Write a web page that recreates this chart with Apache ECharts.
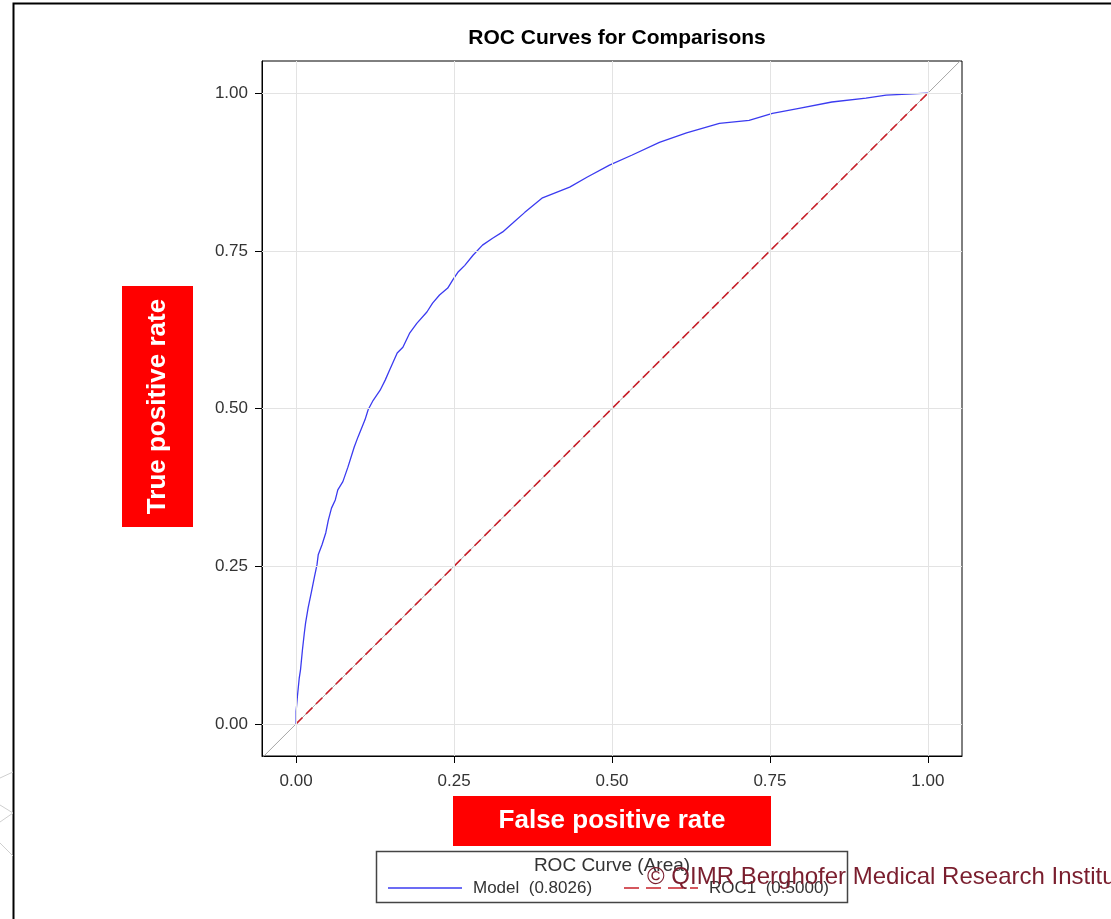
<!DOCTYPE html>
<html>
<head>
<meta charset="utf-8">
<script src="https://cdn.jsdelivr.net/npm/echarts@6/dist/echarts.min.js"></script>
<style>
  html, body { margin: 0; padding: 0; background: #ffffff; }
  #chart { width: 1111px; height: 919px; }
</style>
</head>
<body>
<div id="chart"></div>
<script>
// ROC curve of the fitted model: false positive rate vs true positive rate
const modelFpr = [0, 0.000, 0.002, 0.005, 0.007, 0.010, 0.013, 0.015, 0.019, 0.024, 0.029, 0.033, 0.035, 0.041, 0.047, 0.051, 0.056, 0.062, 0.066, 0.074, 0.082, 0.092, 0.098, 0.109, 0.114, 0.122, 0.133, 0.141, 0.148, 0.160, 0.169, 0.180, 0.191, 0.207, 0.216, 0.227, 0.240, 0.248, 0.256, 0.267, 0.280, 0.295, 0.311, 0.327, 0.343, 0.362, 0.390, 0.433, 0.461, 0.496, 0.532, 0.575, 0.618, 0.670, 0.717, 0.754, 0.796, 0.848, 0.902, 0.934, 0.959, 1.0];
const modelTpr = [0, 0.020, 0.043, 0.073, 0.086, 0.117, 0.144, 0.160, 0.184, 0.208, 0.233, 0.252, 0.268, 0.284, 0.303, 0.323, 0.342, 0.355, 0.371, 0.384, 0.407, 0.439, 0.455, 0.482, 0.498, 0.513, 0.529, 0.545, 0.561, 0.588, 0.597, 0.620, 0.635, 0.653, 0.667, 0.680, 0.691, 0.704, 0.716, 0.727, 0.743, 0.759, 0.770, 0.780, 0.794, 0.811, 0.834, 0.851, 0.867, 0.886, 0.902, 0.922, 0.937, 0.952, 0.957, 0.968, 0.976, 0.986, 0.992, 0.997, 0.998, 1.0];

// chance line (ROC1)
const chanceFpr = [0, 1];
const chanceTpr = [0, 1];

// full-width identity diagonal behind everything
const diagonalExtent = [-0.06, 1.06];

const tickValues = [0, 0.25, 0.5, 0.75, 1];
const seriesNames = ['Model', 'ROC1'];
const areaValues = ['0.8026', '0.5000'];

const FONT = '"Liberation Sans", Arial, sans-serif';
const BLUE = '#3b3bf0';
const RED = '#c8202a';

const zip = (xs, ys) => xs.map((x, i) => [x, ys[i]]);
const fmt = v => v.toFixed(2);

const chart = echarts.init(document.getElementById('chart'), null, { renderer: 'canvas' });

const axisCommon = {
  type: 'value',
  axisLine: { show: true, onZero: false, lineStyle: { color: '#000', width: 1 } },
  axisTick: { show: true, inside: false, length: 7, lineStyle: { color: '#000' }, customValues: tickValues },
  axisLabel: { color: '#333', fontSize: 17, fontFamily: FONT, customValues: tickValues, formatter: fmt },
  splitLine: { show: false }
};

const gridLines = [
  ...tickValues.map(v => ({ xAxis: v })),
  ...tickValues.map(v => ({ yAxis: v }))
];

// legend entry: sample line + "name  (area)"
function legendEntry(x, y, name, area, color, dash) {
  return [
    { type: 'line', silent: true, z: 6,
      shape: { x1: x, y1: y, x2: x + 74, y2: y },
      style: { stroke: color, lineWidth: 1.5, lineDash: dash } },
    { type: 'text', silent: true, z: 6, x: x + 85, y: y,
      style: { text: name + '  (' + area + ')', fill: '#333', font: '17px ' + FONT, align: 'left', verticalAlign: 'middle' } }
  ];
}

chart.setOption({
  animation: false,
  backgroundColor: '#ffffff',
  title: {
    text: 'ROC Curves for Comparisons',
    left: 612,
    top: 23,
    textAlign: 'center',
    textStyle: { fontFamily: FONT, fontWeight: 'bold', fontSize: 21, color: '#000' }
  },
  grid: {
    left: 262, right: 149, top: 61, bottom: 163,
    show: true, borderColor: '#000', borderWidth: 1, backgroundColor: '#fff'
  },
  xAxis: Object.assign({}, axisCommon, {
    min: -0.054, max: 1.054,
    axisLabel: Object.assign({}, axisCommon.axisLabel, { margin: 17 })
  }),
  yAxis: Object.assign({}, axisCommon, {
    min: -0.051, max: 1.051,
    axisLabel: Object.assign({}, axisCommon.axisLabel, { margin: 14 })
  }),
  series: [
    {
      name: 'diagonal',
      type: 'line',
      data: [[diagonalExtent[0], diagonalExtent[0]], [diagonalExtent[1], diagonalExtent[1]]],
      showSymbol: false, symbol: 'none', silent: true, z: 1,
      lineStyle: { color: '#a6a6a6', width: 1 },
      markLine: {
        silent: true, symbol: 'none', label: { show: false },
        lineStyle: { color: '#e3e3e3', width: 1, type: 'solid' },
        data: gridLines
      }
    },
    {
      name: seriesNames[1],
      type: 'line',
      data: zip(chanceFpr, chanceTpr),
      showSymbol: false, symbol: 'none', z: 3,
      lineStyle: { color: RED, width: 1.6, type: [9, 5] }
    },
    {
      name: seriesNames[0],
      type: 'line',
      data: zip(modelFpr, modelTpr),
      showSymbol: false, symbol: 'none', z: 4,
      lineStyle: { color: BLUE, width: 1.3 }
    }
  ],
  graphic: [
    // page frame
    { type: 'polyline', silent: true, z: 20,
      shape: { points: [[13.5, 919], [13.5, 3.5], [1111, 3.5]] },
      style: { stroke: '#000', lineWidth: 2, fill: null } },
    // faint chevrons at the left edge
    { type: 'polyline', silent: true, z: 20,
      shape: { points: [[0, 778], [13, 772]] }, style: { stroke: '#cfcfcf', lineWidth: 1, fill: null } },
    { type: 'polyline', silent: true, z: 20,
      shape: { points: [[0, 805], [13, 813], [0, 822]] }, style: { stroke: '#cfcfcf', lineWidth: 1, fill: null } },
    { type: 'polyline', silent: true, z: 20,
      shape: { points: [[0, 843], [13, 856]] }, style: { stroke: '#cfcfcf', lineWidth: 1, fill: null } },
    // y-axis caption
    { type: 'rect', silent: true, z: 20,
      shape: { x: 122, y: 286, width: 71, height: 241 }, style: { fill: '#ff0000' } },
    { type: 'text', silent: true, z: 21, x: 158, y: 406.5, rotation: Math.PI / 2,
      style: { text: 'True positive rate', fill: '#fff', font: 'bold 26px ' + FONT, align: 'center', verticalAlign: 'middle' } },
    // x-axis caption
    { type: 'rect', silent: true, z: 20,
      shape: { x: 453, y: 796, width: 318, height: 50 }, style: { fill: '#ff0000' } },
    { type: 'text', silent: true, z: 21, x: 612, y: 821,
      style: { text: 'False positive rate', fill: '#fff', font: 'bold 26px ' + FONT, align: 'center', verticalAlign: 'middle' } },
    // legend frame and heading
    { type: 'rect', silent: true, z: 5,
      shape: { x: 376.5, y: 851.5, width: 471, height: 51 }, style: { fill: '#fff', stroke: '#444', lineWidth: 1.5 } },
    { type: 'text', silent: true, z: 6, x: 612, y: 866,
      style: { text: 'ROC Curve (Area)', fill: '#333', font: '19px ' + FONT, align: 'center', verticalAlign: 'middle' } },
    ...legendEntry(388, 888, seriesNames[0], areaValues[0], BLUE, null),
    ...legendEntry(624, 888, seriesNames[1], areaValues[1], RED, [15, 7]),
    // copyright line
    { type: 'text', silent: true, z: 30, x: 647, y: 877,
      style: { text: '\u00A9 QIMR Berghofer Medical Research Institute', fill: '#7a1e2e', font: '24px ' + FONT, align: 'left', verticalAlign: 'middle' } }
  ]
});
</script>
</body>
</html>
